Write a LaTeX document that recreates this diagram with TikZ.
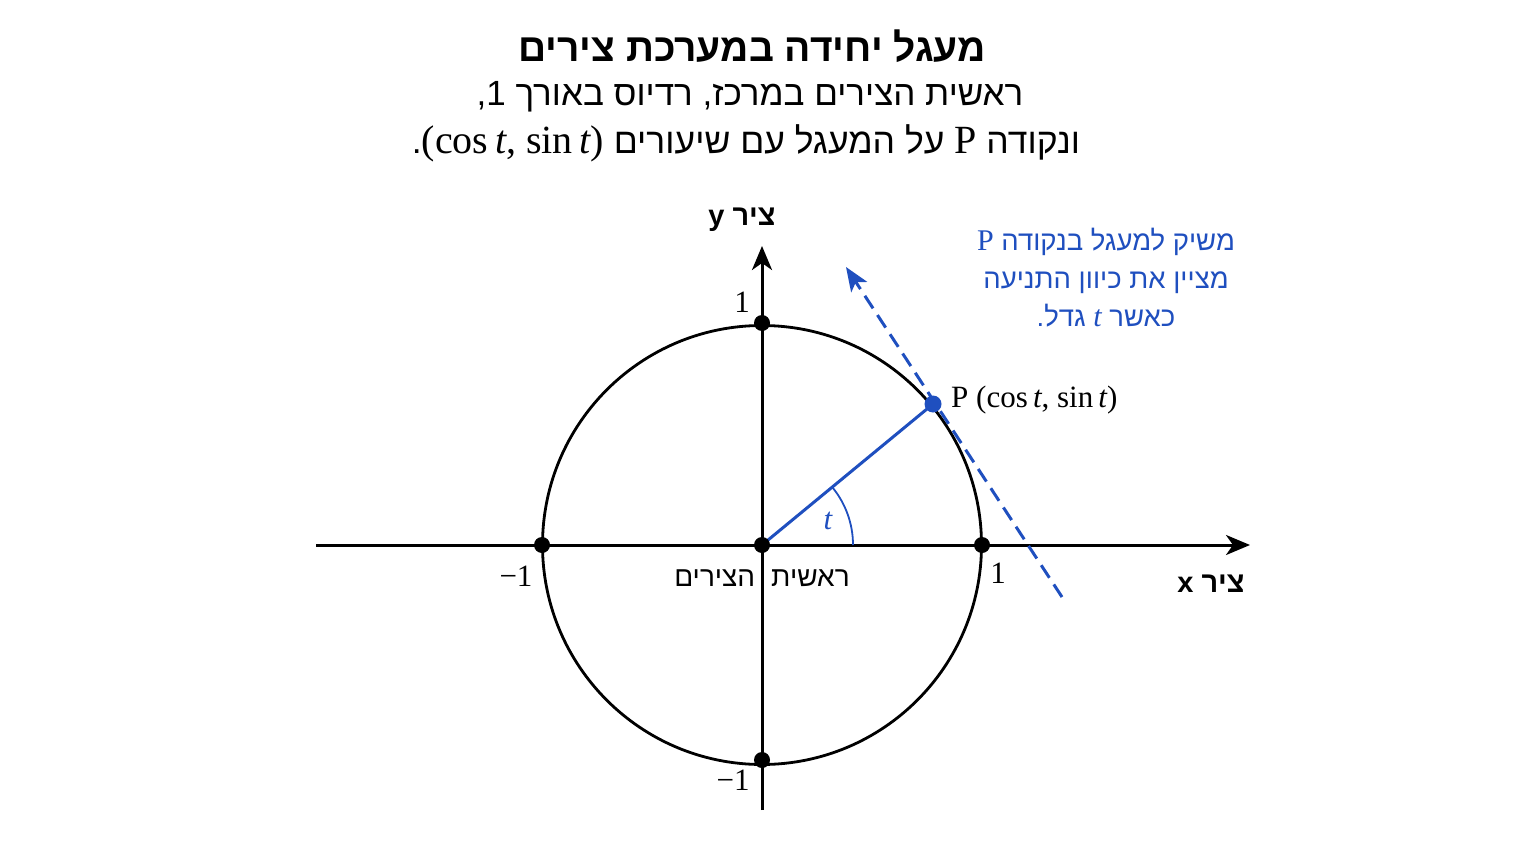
\documentclass[tikz,border=0pt]{standalone}
\usepackage{fontspec}
\setmainfont{Liberation Sans}
\newfontfamily\hebfont[Script=Hebrew]{Liberation Sans}
\newfontfamily\mf{Liberation Serif}
\TeXXeTstate=1
\usetikzlibrary{arrows.meta}
\definecolor{myblue}{HTML}{1F4FBF}
\newcommand{\ti}{{\mf\itshape t}}
\newcommand{\cst}{{\mf (cos\,\ti, sin\,\ti)}}
\tikzset{
  axisline/.style={line width=3pt, -{Stealth[length=24pt,width=20pt,inset=7pt]}},
  curve/.style={line width=2.8pt},
  dotb/.style={circle, fill=black, inner sep=0pt, minimum size=16pt},
  dotp/.style={circle, fill=myblue, inner sep=0pt, minimum size=17pt},
  lbl/.style={font=\mf\fontsize{31}{34}\selectfont, inner sep=0pt},
  heb/.style={font=\hebfont\fontsize{28}{32}\selectfont, inner sep=0pt},
  axtitle/.style={font=\hebfont\bfseries\fontsize{29}{34}\selectfont, inner sep=0pt},
  note/.style={font=\hebfont\fontsize{27.5}{38}\selectfont, text=myblue, align=center, inner sep=0pt},
}
\begin{document}
\begin{tikzpicture}[x=1pt,y=-1pt]
\useasboundingbox (0,0) rectangle (1536,864);
% title
\node[font=\hebfont\bfseries\fontsize{39}{44}\selectfont, inner sep=0pt] (title) at (752,46) {\beginR מעגל יחידה במערכת צירים\endR};
\node[font=\hebfont\fontsize{35}{40}\selectfont, inner sep=0pt] (sub1) at (750,97) {\beginR ראשית הצירים במרכז, רדיוס באורך 1,\endR};
\node[font=\hebfont\fontsize{35.5}{40}\selectfont, inner sep=0pt] (sub2) at (746,143) {\beginR ונקודה {\mf\fontsize{40}{40}\selectfont P} על המעגל עם שיעורים \beginL{\fontsize{40}{40}\selectfont\cst}\endL.\endR};
% geometry
\coordinate (O) at (762,545);
\coordinate (xs) at (316,545);
\coordinate (xe) at (1250,545);
\coordinate (ys) at (762,810);
\coordinate (ye) at (762,246);
\draw[curve] (O) circle[radius=219.5];
\draw[axisline] (xs) -- (xe);
\draw[axisline] (ys) -- (ye);
% tangent
\coordinate (tA) at (1062,597);
\coordinate (tB) at (846,267);
\draw[myblue, line width=3pt, dash pattern=on 15pt off 8pt, -{Stealth[length=24pt,width=19pt,inset=6pt]}] (tA) -- (tB);
% radius
\coordinate (Pc) at (933,404);
\draw[myblue, line width=3pt] (O) -- (Pc);
\draw[myblue, line width=1.8pt] (853,545) arc[start angle=0, end angle=-39.5, radius=91];
\node[lbl, text=myblue] (tlab) at (828,521) {\ti};
% dots
\node[dotb] (d0) at (O) {};
\node[dotb] (d1) at (982,545) {};
\node[dotb] (d2) at (542,545) {};
\node[dotb] (d3) at (762,323) {};
\node[dotb] (d4) at (762,760) {};
\node[dotp] (P) at (Pc) {};
% labels
\node[lbl] (l1y) at (742,302) {1};
\node[lbl] (lm1x) at (516,576) {−1};
\node[lbl] (l1x) at (998,573) {1};
\node[lbl] (lm1y) at (733,780) {−1};
\node[lbl, anchor=west] (Plab) at (951,400) {P \cst};
\node[heb] (orig) at (762,578) {\beginR ראשית\hspace{16pt}הצירים\endR};
\node[axtitle] (ylab) at (742,220) {\beginR ציר y\endR};
\node[axtitle] (xlab) at (1211,584) {\beginR ציר x\endR};
\node[note] (noteTxt) at (1106,278) {\beginR משיק למעגל בנקודה {\mf\fontsize{30}{38}\selectfont P}\endR\\ \beginR מציין את כיוון התניעה\endR\\ \beginR כאשר {\fontsize{30}{38}\selectfont\ti} גדל.\endR};
\end{tikzpicture}
\end{document}
